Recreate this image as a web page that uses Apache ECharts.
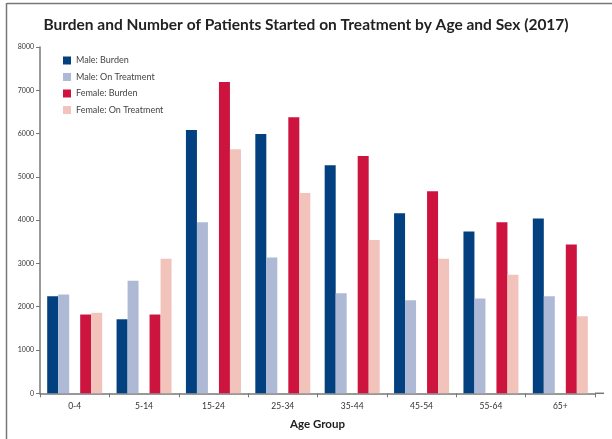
<!DOCTYPE html>
<html><head><meta charset="utf-8">
<script src="https://cdn.jsdelivr.net/npm/echarts@6/dist/echarts.min.js"></script>
<style>html,body{margin:0;padding:0;background:#fff}#c{width:612px;height:439px}</style>
</head><body><div id="c"></div>
<script>
var categories = ['0-4','5-14','15-24','25-34','35-44','45-54','55-64','65+'];
var maleBurden = [2240,1710,6080,5990,5270,4160,3740,4040];
var maleTreatment = [2280,2600,3950,3140,2310,2150,2190,2240];
var femaleBurden = [1820,1820,7190,6380,5480,4670,3950,3440];
var femaleTreatment = [1860,3110,5640,4630,3540,3110,2740,1780];
var seriesNames = ['Male: Burden','Male: On Treatment','Female: Burden','Female: On Treatment'];
var yTicks = [0,1000,2000,3000,4000,5000,6000,7000,8000];

var colors = ['#02407f','#aebad5','#cc143f','#f2c3bb'];
var font = 'Lato, "Open Sans", sans-serif';
var chart = echarts.init(document.getElementById('c'));
function bar(name, data, color){
  return {name:name, type:'bar', data:data, barWidth:11, barGap:'0%', itemStyle:{color:color}};
}
var gap = {name:'_gap', type:'bar', data:categories.map(function(){return null;}), barWidth:11, barGap:'0%', itemStyle:{color:'transparent'}};
chart.setOption({
  animation:false,
  title:{text:'Burden and Number of Patients Started on Treatment by Age and Sex (2017)', left:'center', top:12,
    textStyle:{fontFamily:font, fontWeight:'bold', fontSize:15.5, color:'#222'}},
  legend:{data:seriesNames, orient:'vertical', left:58, top:51, itemWidth:8, itemHeight:8, itemGap:7.5,
    icon:'rect', textStyle:{fontFamily:font, fontSize:9, color:'#444'}},
  grid:{left:40, right:17, top:47, bottom:45.7},
  xAxis:{type:'category', data:categories, name:'Age Group', nameLocation:'middle', nameGap:25,
    nameTextStyle:{fontFamily:font, fontWeight:'bold', fontSize:11.5, color:'#222'},
    axisLine:{lineStyle:{color:'#777', width:1.5}},
    axisTick:{show:true, length:4, lineStyle:{color:'#777'}},
    axisLabel:{fontFamily:font, fontSize:8.5, color:'#333', margin:8}},
  yAxis:{type:'value', min:yTicks[0], max:yTicks[yTicks.length-1], interval:1000,
    axisLine:{show:true, lineStyle:{color:'#777', width:1.5}},
    axisTick:{show:true, length:4, lineStyle:{color:'#777'}},
    splitLine:{show:false},
    axisLabel:{fontFamily:font, fontSize:7, color:'#333', margin:6, formatter:function(v){return String(v);}}},
  series:[bar(seriesNames[0], maleBurden, colors[0]), bar(seriesNames[1], maleTreatment, colors[1]), gap,
          bar(seriesNames[2], femaleBurden, colors[2]), bar(seriesNames[3], femaleTreatment, colors[3])],
  graphic:[
    {type:'line', shape:{x1:7, y1:3.5, x2:612, y2:3.5}, style:{stroke:'#777', lineWidth:1.5}},
    {type:'line', shape:{x1:6.5, y1:3, x2:6.5, y2:439}, style:{stroke:'#777', lineWidth:1.5}},
    {type:'line', shape:{x1:595, y1:393.3, x2:604, y2:393.3}, style:{stroke:'#777', lineWidth:1.5}}
  ]
});
</script></body></html>
